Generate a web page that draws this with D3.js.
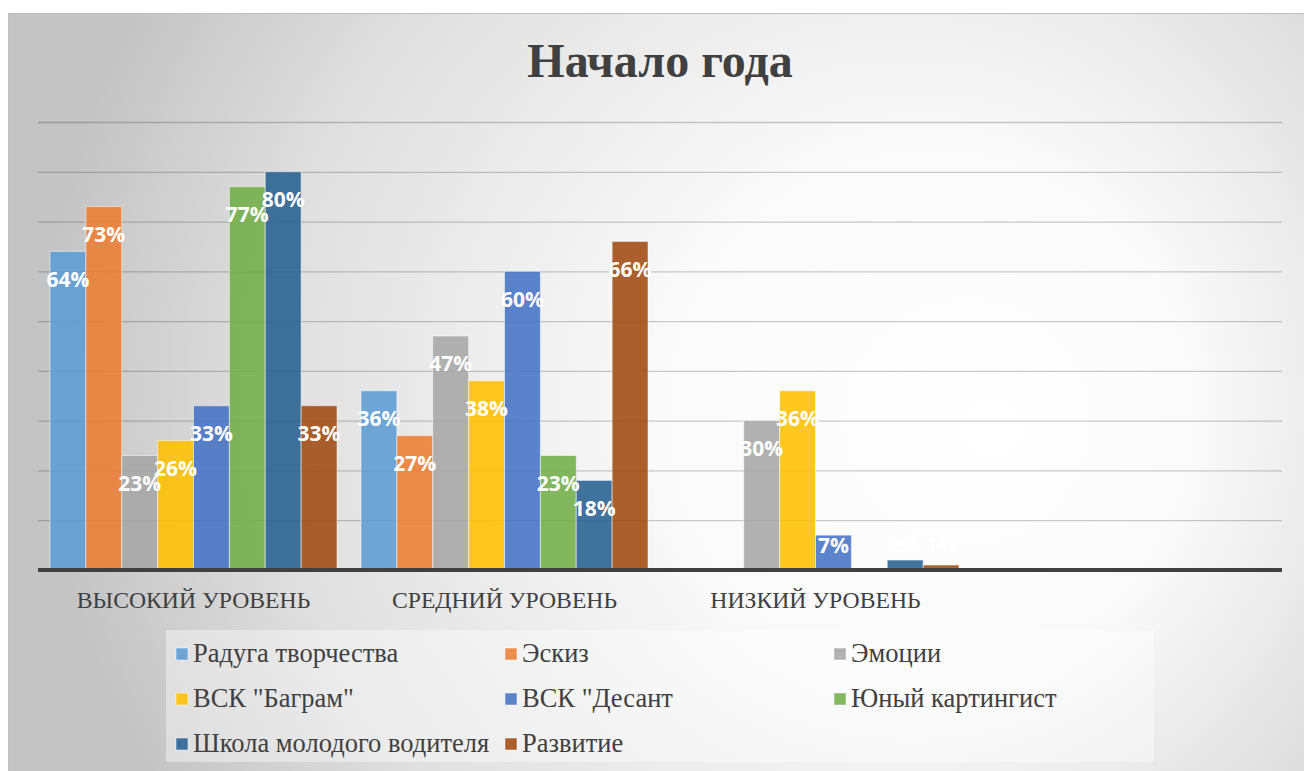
<!DOCTYPE html>
<html>
<head>
<meta charset="utf-8">
<script src="https://cdn.jsdelivr.net/npm/d3@7"></script>
<style>
    body { margin: 0; background: #fff; }
    .serif { font-family: 'Liberation Serif', 'DejaVu Serif', serif; }
    .sans { font-family: 'Open Sans', sans-serif; }
</style>
</head>
<body>
<script>
const title = 'Начало года'

const categories = ['ВЫСОКИЙ УРОВЕНЬ', 'СРЕДНИЙ УРОВЕНЬ', 'НИЗКИЙ УРОВЕНЬ', '']

const seriesNames = [
    'Радуга творчества',
    'Эскиз',
    'Эмоции',
    'ВСК "Баграм"',
    'ВСК "Десант',
    'Юный картингист',
    'Школа молодого водителя',
    'Развитие',
]

const colors = ['#5B9BD5', '#ED7D31', '#A5A5A5', '#FFC000', '#4472C4', '#70AD47', '#255E91', '#9E480E']

// one array per category, in series order (null = no bar)
const high = [0.64, 0.73, 0.23, 0.26, 0.33, 0.77, 0.80, 0.33]
const middle = [0.36, 0.27, 0.47, 0.38, 0.60, 0.23, 0.18, 0.66]
const low = [null, null, 0.30, 0.36, 0.07, null, 0.02, 0.01]
const empty = [null, null, null, null, null, null, null, null]

const values = [high, middle, low, empty]

const yTicks = [0, 0.1, 0.2, 0.3, 0.4, 0.5, 0.6, 0.7, 0.8, 0.9]

const W = 1304, H = 771
const plot = { left: 38, right: 1282, top: 122, bottom: 570 }

const svg = d3.select('body').append('svg')
    .attr('width', W)
    .attr('height', H)

// background
const defs = svg.append('defs')
const grad = defs.append('radialGradient')
    .attr('id', 'bg')
    .attr('gradientUnits', 'userSpaceOnUse')
    .attr('cx', 800).attr('cy', 380).attr('r', 760)
    .attr('fx', 1000).attr('fy', 430)
grad.append('stop').attr('offset', 0).attr('stop-color', '#ffffff')
grad.append('stop').attr('offset', 0.35).attr('stop-color', '#fafafa')
grad.append('stop').attr('offset', 0.75).attr('stop-color', '#e0e0e0')
grad.append('stop').attr('offset', 1).attr('stop-color', '#c4c4c4')

svg.append('rect')
    .attr('x', 8.5).attr('y', 13.5)
    .attr('width', W).attr('height', H)
    .attr('fill', 'url(#bg)')
    .attr('stroke', '#c0c0c0')

// scales
const x0 = d3.scaleBand().domain(d3.range(categories.length)).range([plot.left, plot.right])
const x1 = d3.scaleBand().domain(d3.range(seriesNames.length)).range([12, x0.bandwidth() - 12])
const y = d3.scaleLinear().domain([0, 0.9]).range([plot.bottom, plot.top])

// gridlines
svg.append('g')
    .attr('class', 'grid')
    .call(d3.axisLeft(y).tickValues(yTicks).tickSize(-(plot.right - plot.left)).tickFormat(() => ''))
    .attr('transform', `translate(${plot.left}, 0)`)
    .call(g => g.select('.domain').remove())
    .call(g => g.selectAll('line').attr('stroke', '#000').attr('stroke-opacity', 0.2).attr('stroke-width', 1.3))

// title
svg.append('text')
    .attr('class', 'serif')
    .attr('x', (plot.left + plot.right) / 2)
    .attr('y', 77)
    .attr('text-anchor', 'middle')
    .attr('font-size', 48)
    .attr('font-weight', 'bold')
    .attr('fill', '#404040')
    .text(title)

// bars
const groups = svg.append('g').selectAll('g')
    .data(values)
    .join('g')
    .attr('transform', (d, i) => `translate(${x0(i)}, 0)`)

const bars = d => d.map((v, i) => ({ v, i })).filter(b => b.v !== null)

groups.selectAll('rect')
    .data(bars)
    .join('rect')
    .attr('x', d => x1(d.i))
    .attr('y', d => y(d.v))
    .attr('width', x1.bandwidth())
    .attr('height', d => y(0) - y(d.v))
    .attr('fill', d => colors[d.i])
    .attr('fill-opacity', 0.87)
    .attr('stroke', '#fff')
    .attr('stroke-opacity', 0.5)
    .attr('stroke-width', 1)

// value labels: inside end, pushed up for short bars
groups.selectAll('text')
    .data(bars)
    .join('text')
    .attr('class', 'sans')
    .attr('x', d => x1(d.i) + x1.bandwidth() / 2)
    .attr('y', d => Math.min(y(d.v) + 28, y(0) - 24))
    .attr('dy', '0.35em')
    .attr('text-anchor', 'middle')
    .attr('font-weight', 'bold')
    .attr('font-size', 21)
    .attr('fill', '#fff')
    .text(d => d3.format('.0%')(d.v))

// baseline
svg.append('line')
    .attr('x1', plot.left).attr('x2', plot.right)
    .attr('y1', y(0)).attr('y2', y(0))
    .attr('stroke', '#404040')
    .attr('stroke-width', 4)

// category labels
svg.append('g').selectAll('text')
    .data(categories)
    .join('text')
    .attr('class', 'serif')
    .attr('x', (d, i) => x0(i) + x0.bandwidth() / 2)
    .attr('y', 608)
    .attr('text-anchor', 'middle')
    .attr('font-size', 23.7)
    .attr('fill', '#404040')
    .text(d => d)

// legend
const legend = svg.append('g')
legend.append('rect')
    .attr('x', 166).attr('y', 630)
    .attr('width', 988).attr('height', 132)
    .attr('fill', '#fff')
    .attr('fill-opacity', 0.4)

const item = legend.selectAll('g.item')
    .data(seriesNames)
    .join('g')
    .attr('class', 'item')
    .attr('transform', (d, i) => `translate(${176 + (i % 3) * 329}, ${654 + Math.floor(i / 3) * 45})`)

item.append('rect')
    .attr('x', 0).attr('y', -6)
    .attr('width', 12).attr('height', 12)
    .attr('fill', (d, i) => colors[i])
    .attr('fill-opacity', 0.87)
    .attr('stroke', '#fff')
    .attr('stroke-opacity', 0.5)

item.append('text')
    .attr('class', 'serif')
    .attr('x', 17)
    .attr('y', 8)
    .attr('font-size', 26.5)
    .attr('fill', '#404040')
    .text(d => d)
</script>
</body>
</html>
